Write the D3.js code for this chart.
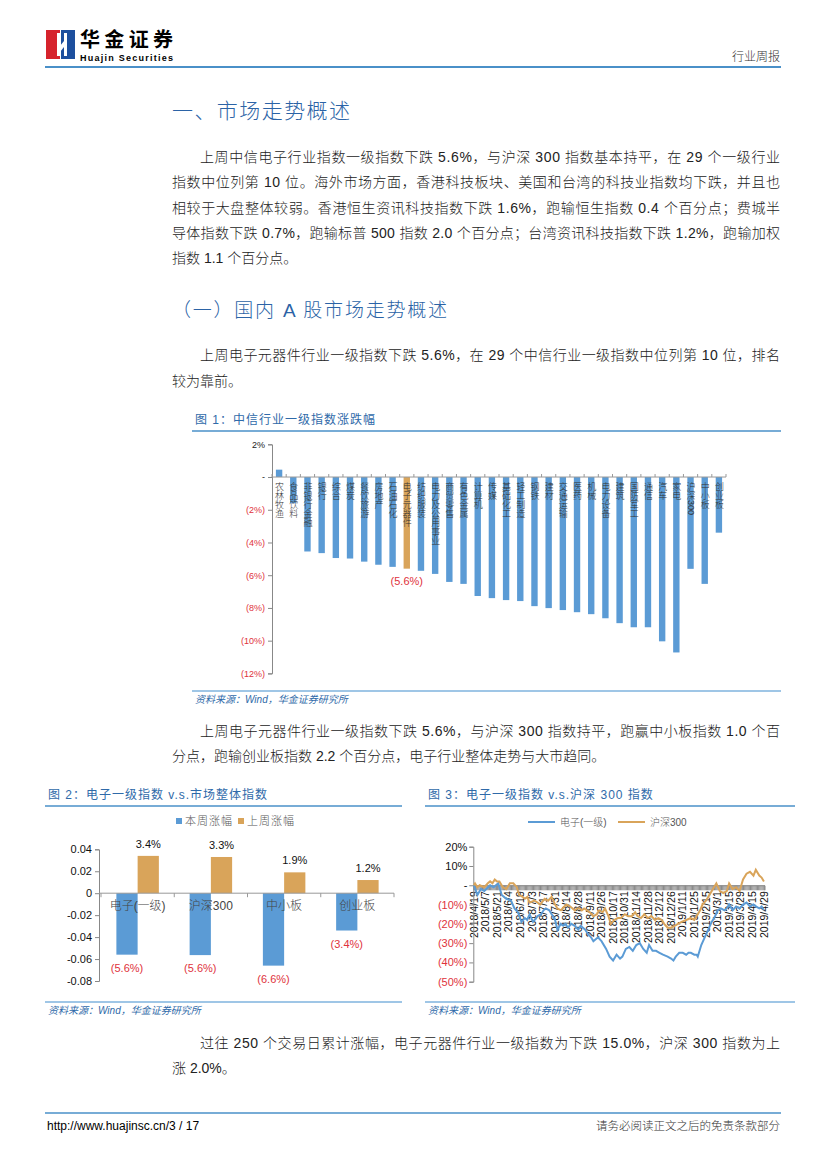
<!DOCTYPE html>
<html>
<head>
<meta charset="utf-8">
<title>行业周报 p3</title>
<script src="https://d3js.org/d3.v7.min.js"></script>
<style>
  body { margin: 0; background: #fff; }
  svg text { font-family: "Liberation Sans", Arial, "Noto Sans CJK SC", sans-serif; }
</style>
</head>
<body>
<script>
// ---- 图1 数据：中信一级行业上周涨跌幅(%) ----
const fig1Cats = ["农林牧渔","食品饮料","非银行金融","银行","综合","煤炭","餐饮旅游","房地产","石油石化","电子元器件",
  "纺织服装","电力及公用事业","商贸零售","有色金属","计算机","传媒","基础化工","轻工制造","钢铁","建材",
  "交通运输","医药","机械","电力设备","建筑","国防军工","通信","汽车","家电","沪深300","中小板","创业板"];
const fig1Vals = [0.45,-1.6,-4.55,-4.65,-4.95,-4.98,-5.17,-5.36,-5.49,-5.6,
  -5.73,-5.92,-6.41,-6.53,-7.27,-7.4,-7.52,-7.58,-7.89,-8.01,
  -8.13,-8.26,-8.38,-8.63,-8.93,-9.18,-9.18,-10.04,-10.72,-5.61,-6.53,-3.4];
const fig1Highlight = "电子元器件";
const fig1Ticks = [2,0,-2,-4,-6,-8,-10,-12];

// ---- 图2 数据 ----
const fig2Cats = ["电子(一级)","沪深300","中小板","创业板"];
const fig2ThisWeek = [-0.056,-0.0564,-0.066,-0.034];
const fig2LastWeek = [0.034,0.033,0.019,0.012];
const fig2Ticks = [0.04,0.02,0,-0.02,-0.04,-0.06,-0.08];

// ---- 图3 数据：250个交易日累计涨跌幅(%)，[交易日序号, 值] ----
const fig3Dates = ["2018/4/19","2018/5/7","2018/5/21","2018/6/4","2018/6/19","2018/7/3","2018/7/17","2018/7/31",
  "2018/8/14","2018/8/28","2018/9/11","2018/9/26","2018/10/17","2018/10/31","2018/11/14","2018/11/28",
  "2018/12/12","2018/12/26","2019/1/11","2019/1/25","2019/2/15","2019/3/1","2019/3/15","2019/3/29",
  "2019/4/15","2019/4/29"];
const fig3Elec = [[0,0],[3,-5],[6,-2],[9,-3],[14,0],[17,-1],[21,1],[24,-5],[28,-7],[32,-8],[35,-12],[38,-14],[41,-19],
  [44,-17],[46,-18],[48,-15],[51,-19],[55,-16],[58,-15],[60,-13],[62,-12],[65,-13],[70,-18],[72,-23],[75,-20],
  [77,-21],[79,-20],[81,-22],[84,-20],[87,-21],[90,-23],[92,-21],[94,-22],[96,-23],[98,-25],[101,-27],[103,-29],
  [105,-28],[107,-27],[110,-29],[114,-33],[117,-37],[120,-39],[123,-36],[126,-38],[128,-37],[131,-33],[134,-32],
  [137,-34],[140,-31],[143,-30],[146,-33],[149,-35],[151,-31],[154,-34],[157,-34],[160,-35],[163,-36],[167,-37],
  [170,-38],[172,-39],[174,-37],[177,-35],[180,-35],[183,-36],[185,-35],[187,-35],[190,-36],[192,-36],[193,-37],
  [196,-31],[199,-27],[202,-23],[205,-19],[208,-16],[210,-13],[213,-12],[216,-13],[218,-12],[220,-10],[223,-13],
  [226,-11],[229,-12],[232,-10],[235,-9],[238,-11],[241,-10],[243,-11],[246,-12],[248,-11],[250,-13]];
const fig3Hs300 = [[0,0],[1,1],[3,-1],[5,0],[9,-1],[12,1],[14,2],[16,1],[18,3],[20,2],[22,2],[25,-1],[28,-2],[31,1],
  [34,1],[37,-1],[39,-5],[42,-6],[44,-7],[46,-6],[48,-9],[52,-8],[55,-9],[57,-10],[61,-7],[64,-8],[67,-6],[70,-10],
  [72,-12],[75,-13],[78,-11],[80,-10],[83,-11],[87,-13],[89,-12],[91,-12],[93,-13],[95,-12],[100,-14],[103,-16],
  [106,-15],[108,-13],[111,-14],[113,-12],[116,-16],[118,-20],[121,-18],[124,-17],[127,-17],[130,-15],[133,-16],
  [136,-16],[139,-14],[141,-16],[144,-17],[147,-15],[150,-17],[153,-16],[156,-18],[159,-17],[162,-18],[164,-20],
  [167,-22],[170,-22],[173,-21],[176,-20],[179,-19],[183,-18],[187,-17],[190,-18],[192,-16],[195,-13],[197,-10],
  [200,-8],[203,-5],[206,-2],[209,1],[212,-3],[215,-4],[218,-3],[220,1],[223,-2],[226,-1],[229,-3],[232,3],[235,6],
  [238,7],[241,5],[243,8],[246,5],[248,4],[250,2]];
const fig3Ticks = [20,10,0,-10,-20,-30,-40,-50];

const BLUE = "#5b9bd5", GOLD = "#d9a45a", RED = "#e0323c", TITLE = "#2f6aa9", RULE = "#4a90c8";
const svg = d3.select("body").append("svg").attr("width", 827).attr("height", 1169);

// ---------- 页眉 ----------
svg.append("rect").attr("x", 46).attr("y", 30).attr("width", 14).attr("height", 29).attr("fill", "#d6232c");
svg.append("rect").attr("x", 61).attr("y", 30).attr("width", 14).attr("height", 29).attr("fill", "#1d4f9e");
svg.append("path").attr("d", "M57,33 L60,33 L60,46 L64,41 L64,33 L67,33 L67,56 L64,56 L64,47 L60,52 L60,56 L57,56 Z").attr("fill", "#fff");
svg.append("text").attr("x", 80).attr("y", 47).attr("font-size", 20).attr("font-weight", "bold")
  .attr("textLength", 93).style("font-family", "'Noto Sans CJK SC'").text("华金证券");
svg.append("text").attr("x", 80).attr("y", 61).attr("font-size", 9).attr("font-weight", "bold")
  .attr("textLength", 93).text("Huajin Securities");
svg.append("text").attr("x", 780).attr("y", 61).attr("text-anchor", "end").attr("font-size", 12)
  .attr("font-weight", 300).attr("fill", "#333").text("行业周报");
svg.append("line").attr("x1", 45).attr("x2", 781).attr("y1", 67).attr("y2", 67).attr("stroke", RULE).attr("stroke-width", 2);

// ---------- 页脚 ----------
svg.append("line").attr("x1", 45).attr("x2", 781).attr("y1", 1113).attr("y2", 1113).attr("stroke", RULE).attr("stroke-width", 1.5);
svg.append("text").attr("x", 47).attr("y", 1130).attr("font-size", 12).text("http://www.huajinsc.cn/3 / 17");
svg.append("text").attr("x", 780).attr("y", 1130).attr("text-anchor", "end").attr("font-size", 11.5)
  .attr("font-weight", 300).attr("fill", "#333").text("请务必阅读正文之后的免责条款部分");

// ---------- 正文 ----------
function para(txt, x, y, justify) {
  const t = svg.append("text").attr("x", x).attr("y", y).attr("font-size", 14).attr("font-weight", 300)
    .attr("fill", "#222").text(txt);
  if (justify) t.attr("textLength", 780 - x).attr("lengthAdjust", "spacing");
}
function heading(txt, y, size, len) {
  svg.append("text").attr("x", 172).attr("y", y).attr("font-size", size).attr("font-weight", 300)
    .attr("fill", "#2b63a6").attr("textLength", len).text(txt);
}
function figTitle(txt, x, y, x2) {
  svg.append("text").attr("x", x).attr("y", y).attr("font-size", 12).attr("fill", TITLE)
    .attr("letter-spacing", 1).text(txt);
  svg.append("line").attr("x1", x - 3).attr("x2", x2).attr("y1", y + 7).attr("y2", y + 7)
    .attr("stroke", RULE).attr("stroke-width", 1.5);
}
function source(x, y, x2) {
  svg.append("line").attr("x1", x - 3).attr("x2", x2).attr("y1", y - 12).attr("y2", y - 12)
    .attr("stroke", "#7fb3de").attr("stroke-width", 1.5);
  svg.append("text").attr("x", x).attr("y", y).attr("font-size", 10).attr("font-style", "italic")
    .attr("fill", TITLE).text("资料来源：Wind，华金证券研究所");
}

heading("一、市场走势概述", 118, 21, 178);
para("上周中信电子行业指数一级指数下跌 5.6%，与沪深 300 指数基本持平，在 29 个一级行业", 200, 162, true);
para("指数中位列第 10 位。海外市场方面，香港科技板块、美国和台湾的科技业指数均下跌，并且也", 172, 187, true);
para("相较于大盘整体较弱。香港恒生资讯科技指数下跌 1.6%，跑输恒生指数 0.4 个百分点；费城半", 172, 213, true);
para("导体指数下跌 0.7%，跑输标普 500 指数 2.0 个百分点；台湾资讯科技指数下跌 1.2%，跑输加权", 172, 238, true);
para("指数 1.1 个百分点。", 172, 263, false);

heading("（一）国内 A 股市场走势概述", 317, 19, 275);
para("上周电子元器件行业一级指数下跌 5.6%，在 29 个中信行业一级指数中位列第 10 位，排名", 200, 360, true);
para("较为靠前。", 172, 386, false);

para("上周电子元器件行业一级指数下跌 5.6%，与沪深 300 指数持平，跑赢中小板指数 1.0 个百", 200, 736, true);
para("分点，跑输创业板指数 2.2 个百分点，电子行业整体走势与大市趋同。", 172, 761, false);

para("过往 250 个交易日累计涨幅，电子元器件行业一级指数为下跌 15.0%，沪深 300 指数为上", 200, 1048, true);
para("涨 2.0%。", 172, 1073, false);

const pct = v => v === 0 ? "-" : (v > 0 ? v + "%" : "(" + Math.abs(v) + "%)");

// ---------- 图1 ----------
figTitle("图 1：中信行业一级指数涨跌幅", 195, 424, 781);
source(195, 703, 781);
{
  const g = svg.append("g");
  const x = d3.scaleBand().domain(fig1Cats).range([272, 726]).paddingInner(0.55).paddingOuter(0.275);
  const y = d3.scaleLinear().domain([-12, 2]).range([673.4, 444.3]);
  g.selectAll("rect.bar").data(fig1Cats).join("rect")
    .attr("x", d => x(d)).attr("width", x.bandwidth())
    .attr("y", (d, i) => y(Math.max(0, fig1Vals[i])))
    .attr("height", (d, i) => Math.abs(y(fig1Vals[i]) - y(0)))
    .attr("fill", d => d === fig1Highlight ? GOLD : BLUE);
  const ya = g.append("g").attr("transform", "translate(272,0)")
    .call(d3.axisLeft(y).tickValues(fig1Ticks).tickSize(4).tickFormat(pct));
  ya.select(".domain").attr("stroke", "#888");
  ya.selectAll(".tick line").attr("stroke", "#888");
  ya.selectAll(".tick text").attr("font-size", 9).attr("fill", d => d < 0 ? RED : "#222").attr("x", -7);
  // 零轴
  g.append("line").attr("x1", 272).attr("x2", 726).attr("y1", y(0)).attr("y2", y(0)).attr("stroke", "#999");
  g.selectAll("line.ct").data(d3.range(fig1Cats.length + 1)).join("line")
    .attr("x1", i => 272 + i * x.step()).attr("x2", i => 272 + i * x.step())
    .attr("y1", y(0) - 3).attr("y2", y(0)).attr("stroke", "#999");
  g.selectAll("text.cat").data(fig1Cats).join("text")
    .attr("x", d => x(d) + x.bandwidth() / 2).attr("y", y(0) + 5)
    .attr("font-size", 9).attr("font-weight", 300).attr("fill", "#333")
    .style("writing-mode", "vertical-rl")
    .text(d => d);
  const hi = fig1Cats.indexOf(fig1Highlight);
  g.append("text").attr("x", x(fig1Highlight) + x.bandwidth() / 2).attr("y", y(fig1Vals[hi]) + 16)
    .attr("text-anchor", "middle").attr("font-size", 11).attr("fill", RED).text(pct(fig1Vals[hi]));
}

// ---------- 图2 ----------
figTitle("图 2：电子一级指数 v.s.市场整体指数", 48, 799, 402);
source(48, 1014, 402);
{
  const g = svg.append("g");
  const x = d3.scaleBand().domain(fig2Cats).range([101, 394]).paddingInner(0.42).paddingOuter(0.21);
  const xs = d3.scaleBand().domain(["this", "last"]).range([0, x.bandwidth()]);
  const y = d3.scaleLinear().domain([-0.08, 0.04]).range([981, 849.3]);
  const series = [{ key: "this", vals: fig2ThisWeek, color: BLUE }, { key: "last", vals: fig2LastWeek, color: GOLD }];
  series.forEach(s => {
    g.selectAll(null).data(fig2Cats).join("rect")
      .attr("x", d => x(d) + xs(s.key)).attr("width", xs.bandwidth())
      .attr("y", (d, i) => y(Math.max(0, s.vals[i])))
      .attr("height", (d, i) => Math.abs(y(s.vals[i]) - y(0)))
      .attr("fill", s.color);
    g.selectAll(null).data(fig2Cats).join("text")
      .attr("x", d => x(d) + xs(s.key) + xs.bandwidth() / 2)
      .attr("y", (d, i) => s.vals[i] > 0 ? y(s.vals[i]) - 8 : y(s.vals[i]) + 17)
      .attr("text-anchor", "middle").attr("font-size", 11)
      .attr("fill", (d, i) => s.vals[i] < 0 ? RED : "#111")
      .text((d, i) => pct(+(s.vals[i] * 100).toFixed(1)));
  });
  const ya = g.append("g").attr("transform", "translate(99,0)")
    .call(d3.axisLeft(y).tickValues(fig2Ticks).tickSize(4).tickFormat(d => d === 0 ? "0" : d3.format(".2f")(d).replace("−", "-")));
  ya.select(".domain").attr("stroke", "#888");
  ya.selectAll(".tick line").attr("stroke", "#888");
  ya.selectAll(".tick text").attr("font-size", 11).attr("fill", "#111").attr("x", -7);
  g.append("line").attr("x1", 99).attr("x2", 394).attr("y1", y(0)).attr("y2", y(0)).attr("stroke", "#999");
  g.selectAll("line.ct").data(d3.range(fig2Cats.length + 1)).join("line")
    .attr("x1", i => 101 + i * x.step()).attr("x2", i => 101 + i * x.step())
    .attr("y1", y(0)).attr("y2", y(0) + 4).attr("stroke", "#999");
  g.selectAll("text.cat").data(fig2Cats).join("text")
    .attr("x", d => x(d) + x.bandwidth() / 2).attr("y", y(0) + 17)
    .attr("text-anchor", "middle").attr("font-size", 12).attr("font-weight", 300).attr("fill", "#444").text(d => d);
  // 图例
  [["本周涨幅", BLUE, 176], ["上周涨幅", GOLD, 238]].forEach(([t, c, lx]) => {
    g.append("rect").attr("x", lx).attr("y", 818).attr("width", 6).attr("height", 6).attr("fill", c);
    g.append("text").attr("x", lx + 9).attr("y", 825).attr("font-size", 11).attr("font-weight", 300)
      .attr("fill", "#555").attr("letter-spacing", 1).text(t);
  });
}

// ---------- 图3 ----------
figTitle("图 3：电子一级指数 v.s.沪深 300 指数", 428, 799, 795);
source(428, 1014, 795);
{
  const g = svg.append("g");
  const x = d3.scaleLinear().domain([-0.5, 250.5]).range([473.3, 764.5]);
  const y = d3.scaleLinear().domain([-50, 20]).range([981.7, 846.7]);
  // 密集日刻度
  g.append("g").attr("transform", `translate(0,${y(0)})`)
    .call(d3.axisBottom(x).tickValues(d3.range(0, 251)).tickSize(5).tickFormat(""))
    .call(a => { a.select(".domain").attr("stroke", "#888"); a.selectAll(".tick line").attr("stroke", "#8a8a8a"); });
  g.selectAll("text.date").data(fig3Dates).join("text")
    .attr("transform", (d, i) => `translate(${x(i * 10)},${y(0) + 6}) rotate(-90)`)
    .attr("text-anchor", "end").attr("dy", "0.35em").attr("font-size", 10.5).attr("fill", "#111").text(d => d);
  const ya = g.append("g").attr("transform", "translate(473.3,0)")
    .call(d3.axisLeft(y).tickValues(fig3Ticks).tickSize(4).tickFormat(pct));
  ya.select(".domain").attr("stroke", "#888");
  ya.selectAll(".tick line").attr("stroke", "#888");
  ya.selectAll(".tick text").attr("font-size", 11).attr("fill", d => d < 0 ? RED : "#111").attr("x", -6);
  const line = d3.line().x(d => x(d[0])).y(d => y(d[1]));
  g.append("path").datum(fig3Elec).attr("d", line).attr("fill", "none").attr("stroke", BLUE).attr("stroke-width", 2);
  g.append("path").datum(fig3Hs300).attr("d", line).attr("fill", "none").attr("stroke", GOLD).attr("stroke-width", 2);
  [["电子(一级)", BLUE, 528], ["沪深300", GOLD, 618]].forEach(([t, c, lx]) => {
    g.append("line").attr("x1", lx).attr("x2", lx + 27).attr("y1", 822).attr("y2", 822).attr("stroke", c).attr("stroke-width", 2);
    g.append("text").attr("x", lx + 32).attr("y", 826).attr("font-size", 10).attr("font-weight", 300)
      .attr("fill", "#555").text(t);
  });
}
</script>
</body>
</html>
